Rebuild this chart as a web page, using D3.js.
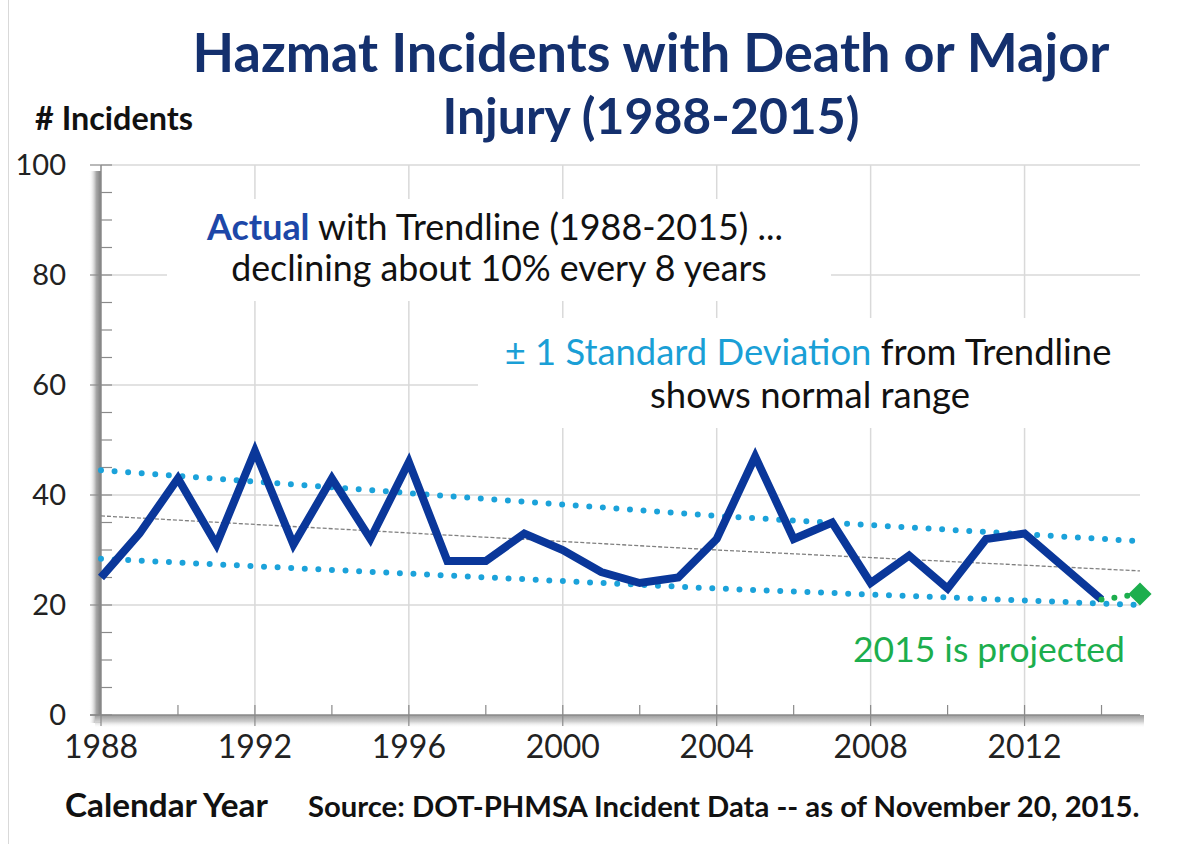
<!DOCTYPE html>
<html>
<head>
<meta charset="utf-8">
<script src="https://cdn.jsdelivr.net/npm/d3@7/dist/d3.min.js"></script>
<style>
  body { margin: 0; background: #fff; }
  svg text { font-family: Lato, "Open Sans", sans-serif; }
</style>
</head>
<body>
<div class="canvas"></div>
<script>
// values
var years = [1988, 1989, 1990, 1991, 1992, 1993, 1994, 1995, 1996, 1997, 1998, 1999, 2000, 2001,
             2002, 2003, 2004, 2005, 2006, 2007, 2008, 2009, 2010, 2011, 2012, 2013, 2014];
var incidents = [25, 33, 43, 31, 48, 31, 43, 32, 46, 28, 28, 33, 30, 26,
                 24, 25, 32, 47, 32, 35, 24, 29, 23, 32, 33, 27, 21];
var projectedYears = [2014, 2015];
var projected = [21, 22];

var trendYears = [1988, 2004, 2015];
var trendMid = [36.2, 30.0, 26.2];
var trendUpper = [44.5, 36.2, 31.6];
var trendLower = [28.4, 23.0, 20.0];

var yMajorTicks = [0, 20, 40, 60, 80, 100];
var yMinorTicks = d3.range(0, 101, 5);
var xLabelTicks = [1988, 1992, 1996, 2000, 2004, 2008, 2012];
var xMinorTicks = d3.range(1990, 2015, 4);
var xGridYears = [1992, 1996, 2000, 2004, 2008, 2012];

var width = 1186, height = 844;
var navy = '#14306e', lineBlue = '#0a379a', dotBlue = '#1ba2da', green = '#1cae4d';

var svg = d3.select('.canvas')
  .append('svg')
    .attr('width', width)
    .attr('height', height);

var defs = svg.append('defs');
var gLeft = defs.append('linearGradient').attr('id', 'shadeLeft')
    .attr('x1', '0').attr('x2', '1').attr('y1', '0').attr('y2', '0');
gLeft.append('stop').attr('offset', '0').attr('stop-color', '#fff').attr('stop-opacity', 0);
gLeft.append('stop').attr('offset', '0.6').attr('stop-color', '#a8a8a8');
gLeft.append('stop').attr('offset', '1').attr('stop-color', '#7c7c7c');
var gBottom = defs.append('linearGradient').attr('id', 'shadeBottom')
    .attr('x1', '0').attr('x2', '0').attr('y1', '0').attr('y2', '1');
gBottom.append('stop').attr('offset', '0').attr('stop-color', '#9a9a9a');
gBottom.append('stop').attr('offset', '0.5').attr('stop-color', '#cfcfcf');
gBottom.append('stop').attr('offset', '1').attr('stop-color', '#fff').attr('stop-opacity', 0);

var x = d3.scaleLinear().domain([1988, 2015]).range([101, 1140]);
var y = d3.scaleLinear().domain([0, 100]).range([715, 165]);

// chart border on the left edge
svg.append('line')
    .attr('x1', 8.5).attr('x2', 8.5).attr('y1', 0).attr('y2', height)
    .attr('stroke', '#d9d9d9');

// gridlines
var grid = svg.append('g').attr('class', 'grid');
grid.selectAll('.hgrid')
    .data(yMajorTicks.filter(function(d){ return d > 0; }))
    .enter().append('line')
      .attr('x1', x(1988)).attr('x2', x(2015))
      .attr('y1', function(d){ return y(d); })
      .attr('y2', function(d){ return y(d); })
      .attr('stroke', '#d9d9d9').attr('stroke-width', 1.5);
grid.selectAll('.vgrid')
    .data(xGridYears)
    .enter().append('line')
      .attr('x1', function(d){ return x(d); })
      .attr('x2', function(d){ return x(d); })
      .attr('y1', y(100)).attr('y2', y(0))
      .attr('stroke', '#d9d9d9').attr('stroke-width', 1.5);

// text boxes hide the grid behind them
svg.append('rect').attr('x', 167).attr('y', 199).attr('width', 664).attr('height', 102).attr('fill', '#fff');
svg.append('rect').attr('x', 478).attr('y', 318).attr('width', 670).attr('height', 110).attr('fill', '#fff');

// axis shadows
svg.append('rect')
    .attr('x', x(1988) - 12).attr('y', y(100) + 6).attr('width', 12).attr('height', y(0) - y(100) + 2)
    .attr('fill', 'url(#shadeLeft)');
svg.append('rect')
    .attr('x', x(1988) - 6).attr('y', y(0)).attr('width', x(2015) - x(1988) + 10).attr('height', 13)
    .attr('fill', 'url(#shadeBottom)');

// axes
var axisColor = '#8a8a8a';
var axes = svg.append('g').attr('class', 'axes');
axes.append('line')
    .attr('x1', x(1988)).attr('x2', x(1988)).attr('y1', y(100)).attr('y2', y(0))
    .attr('stroke', axisColor).attr('stroke-width', 1.5);
axes.append('line')
    .attr('x1', x(1988) - 11).attr('x2', x(2015)).attr('y1', y(0)).attr('y2', y(0))
    .attr('stroke', axisColor).attr('stroke-width', 1.5);

axes.selectAll('.ymin')
    .data(yMinorTicks)
    .enter().append('line')
      .attr('x1', x(1988)).attr('x2', x(1988) + 11)
      .attr('y1', function(d){ return y(d); })
      .attr('y2', function(d){ return y(d); })
      .attr('stroke', axisColor).attr('stroke-width', 1.2);
axes.selectAll('.ymaj')
    .data(yMajorTicks)
    .enter().append('line')
      .attr('x1', x(1988) - 11).attr('x2', x(1988))
      .attr('y1', function(d){ return y(d); })
      .attr('y2', function(d){ return y(d); })
      .attr('stroke', axisColor).attr('stroke-width', 1.2);
axes.selectAll('.xmin')
    .data(xMinorTicks)
    .enter().append('line')
      .attr('x1', function(d){ return x(d); })
      .attr('x2', function(d){ return x(d); })
      .attr('y1', y(0) - 10).attr('y2', y(0))
      .attr('stroke', axisColor).attr('stroke-width', 1.2);
axes.selectAll('.xmaj')
    .data(xLabelTicks)
    .enter().append('line')
      .attr('x1', function(d){ return x(d); })
      .attr('x2', function(d){ return x(d); })
      .attr('y1', function(d){ return d === 1988 ? y(0) : y(0) - 10; })
      .attr('y2', y(0) + 11)
      .attr('stroke', axisColor).attr('stroke-width', 1.2);

axes.selectAll('.ylab')
    .data(yMajorTicks)
    .enter().append('text')
      .attr('x', 66)
      .attr('y', function(d){ return y(d) + 10; })
      .attr('text-anchor', 'end')
      .attr('font-size', 29)
      .attr('fill', '#222')
      .text(function(d){ return d; });
axes.selectAll('.xlab')
    .data(xLabelTicks)
    .enter().append('text')
      .attr('x', function(d){ return x(d); })
      .attr('y', 758)
      .attr('text-anchor', 'middle')
      .attr('font-size', 32)
      .attr('fill', '#222')
      .text(function(d){ return d; });

// trendlines
var trendLine = d3.line()
    .x(function(d){ return x(d[0]); })
    .y(function(d){ return y(d[1]); });

svg.append('path')
    .datum(d3.zip(trendYears, trendMid))
    .attr('d', trendLine)
    .attr('fill', 'none').attr('stroke', '#808080')
    .attr('stroke-width', 1.3).attr('stroke-dasharray', '4,2');
[trendUpper, trendLower].forEach(function(vals){
  svg.append('path')
      .datum(d3.zip(trendYears, vals))
      .attr('d', trendLine)
      .attr('fill', 'none').attr('stroke', dotBlue)
      .attr('stroke-width', 6).attr('stroke-linecap', 'round')
      .attr('stroke-dasharray', '0,13.6');
});

// actual incidents
var line = d3.line()
    .x(function(d){ return x(d[0]); })
    .y(function(d){ return y(d[1]); });

svg.append('path')
    .datum(d3.zip(years, incidents))
    .attr('d', line)
    .attr('fill', 'none').attr('stroke', lineBlue)
    .attr('stroke-width', 8).attr('stroke-linejoin', 'miter');

// projected 2015
svg.append('path')
    .datum(d3.zip(projectedYears, projected))
    .attr('d', line)
    .attr('fill', 'none').attr('stroke', green)
    .attr('stroke-width', 6).attr('stroke-linecap', 'round')
    .attr('stroke-dasharray', '0,13');
svg.append('path')
    .attr('d', d3.symbol().type(d3.symbolDiamond2).size(340))
    .attr('transform', 'translate(' + x(projectedYears[1]) + ',' + y(projected[1]) + ')')
    .attr('fill', green);

// texts
function fit(sel, target){
  var w = sel.node().getComputedTextLength();
  var fs = parseFloat(sel.attr('font-size'));
  sel.attr('font-size', fs * target / w);
  return sel;
}

function addText(tx, ty, size, weight, color, anchor){
  return svg.append('text')
      .attr('x', tx).attr('y', ty)
      .attr('font-size', size)
      .attr('font-weight', weight)
      .attr('fill', color)
      .attr('text-anchor', anchor || 'start');
}

fit(addText(651, 72, 48, 'bold', navy, 'middle').text('Hazmat Incidents with Death or Major'), 917);
fit(addText(651, 134, 48, 'bold', navy, 'middle').text('Injury (1988-2015)'), 417);
fit(addText(35, 130, 24, 'bold', '#111').text('# Incidents'), 158);

var a1 = addText(495, 240, 28, 'normal', '#111', 'middle');
a1.append('tspan').attr('fill', '#1d47a8').attr('font-weight', 'bold').text('Actual');
a1.append('tspan').text(' with Trendline (1988-2015) ...');
fit(a1, 576);
fit(addText(499, 281, 28, 'normal', '#111', 'middle').text('declining about 10% every 8 years'), 536);

var a2 = addText(808, 365, 28, 'normal', '#111', 'middle');
a2.append('tspan').attr('fill', '#1a9fd6').text('\u00b1 1 Standard Deviation');
a2.append('tspan').text(' from Trendline');
fit(a2, 607);
fit(addText(810, 408, 28, 'normal', '#111', 'middle').text('shows normal range'), 320);

fit(addText(853, 662, 30, 'normal', green).text('2015 is projected'), 272);

fit(addText(65, 817, 24, 'bold', '#111').text('Calendar Year'), 203);
fit(addText(308, 817, 22, 'bold', '#111').text('Source: DOT-PHMSA Incident Data -- as of November 20, 2015.'), 832);
</script>
</body>
</html>
